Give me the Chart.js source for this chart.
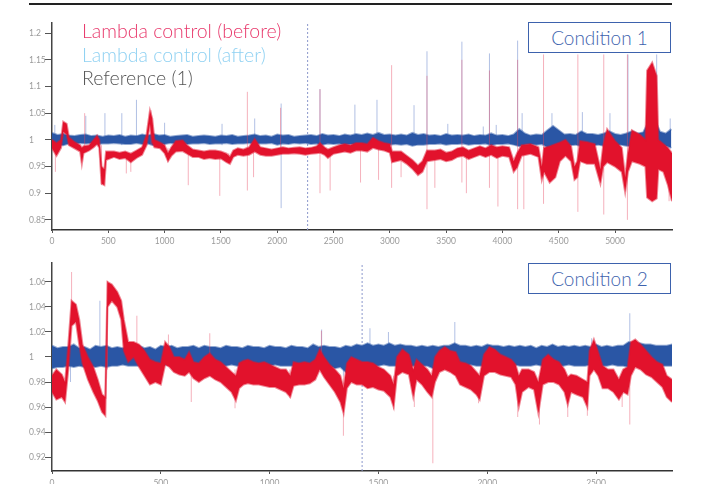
<!DOCTYPE html>
<html>
<head>
<meta charset="utf-8">
<script src="https://cdn.jsdelivr.net/npm/chart.js@4.4.1/dist/chart.umd.min.js"></script>
<style>
  body { margin: 0; background: #fff; width: 705px; height: 484px; overflow: hidden; position: relative; font-family: Lato, "Open Sans", sans-serif; }
  #rule { position: absolute; left: 29px; top: 3px; width: 643px; height: 2px; background: #222; }
  canvas { position: absolute; left: 0; }
  #c1 { top: 0; }
  #c2 { top: 252px; }
  .legend { position: absolute; left: 82px; font-size: 19.5px; font-weight: 300; line-height: 23.5px; white-space: nowrap; }
  .cond { position: absolute; left: 528px; width: 141px; height: 29px; border: 1.5px solid #3d62ad; background: #fff;
          color: #3d62ad; font-size: 19px; font-weight: 300; text-align: center; line-height: 29px; }
</style>
</head>
<body>
<div id="rule"></div>
<canvas id="c1" width="705" height="252"></canvas>
<canvas id="c2" width="705" height="232"></canvas>
<div class="legend" style="top:19px;color:#e8386b">Lambda control (before)</div>
<div class="legend" style="top:42.5px;color:#8fd1f2">Lambda control (after)</div>
<div class="legend" style="top:66px;color:#555">Reference (1)</div>
<div class="cond" style="top:22px">Condition 1</div>
<div class="cond" style="top:263px">Condition 2</div>
<script>
// ---- Condition 1 (top panel) ----
// red band: sample positions with upper / lower edge of the noisy trace
const topRedX = [0,40,80,100,130,150,200,250,265,280,330,370,400,420,440,465,480,550,600,650,
  700,750,800,840,870,890,910,960,1000,1030,1060,1100,1160,1200,1250,1300,1350,1400,1450,1500,
  1550,1580,1610,1650,1700,1750,1800,1850,1900,1950,2000,2050,2100,2150,2200,2250,2300,2350,2380,2420,
  2450,2500,2550,2600,2650,2700,2750,2800,2850,2900,2950,3000,3020,3100,3150,3200,3250,3290,3330,3400,
  3450,3500,3550,3600,3650,3700,3750,3800,3850,3900,3950,4000,4060,4100,4130,4170,4250,4320,4350,4370,
  4420,4470,4510,4560,4610,4640,4665,4690,4750,4820,4870,4895,4930,5000,5060,5090,5115,5150,5220,5270,
  5285,5330,5370,5385,5430,5470,5506];
const topRedHi = [1.000,0.994,1.000,1.034,1.030,1.005,0.996,0.990,0.985,0.988,0.990,1.000,1.008,1.000,0.950,0.945,0.978,0.978,0.976,0.978,
  0.974,0.980,0.986,1.010,1.055,1.040,1.000,0.995,0.990,0.975,0.986,0.998,0.999,0.990,0.982,0.980,0.978,0.980,0.980,0.978,
  0.974,0.968,0.980,0.984,0.982,0.986,1.002,0.986,0.984,0.982,0.984,0.986,0.984,0.985,0.986,0.984,0.985,0.988,0.994,0.986,
  0.982,0.986,0.990,0.992,0.990,0.994,0.994,0.992,1.004,0.998,0.994,0.992,0.978,0.978,0.970,0.962,0.952,0.960,0.980,0.980,
  0.982,0.976,0.978,0.984,0.986,0.980,0.984,0.988,0.984,0.990,0.986,0.988,0.986,0.960,0.975,0.990,0.992,0.986,0.950,0.985,
  0.988,0.992,0.995,1.000,0.988,0.950,0.960,0.998,0.996,0.992,0.945,0.990,1.020,0.998,0.985,0.930,0.975,1.018,1.010,1.000,
  1.130,1.145,1.120,1.000,0.992,0.985,0.975];
const topRedLo = [0.984,0.970,0.985,1.015,1.010,0.990,0.984,0.978,0.955,0.975,0.980,0.986,0.992,0.985,0.918,0.915,0.962,0.968,0.964,0.966,
  0.958,0.966,0.972,0.990,1.030,0.995,0.986,0.984,0.975,0.960,0.970,0.978,0.979,0.974,0.968,0.968,0.964,0.966,0.964,0.965,
  0.958,0.955,0.968,0.972,0.970,0.972,0.978,0.972,0.970,0.970,0.972,0.974,0.974,0.975,0.974,0.972,0.974,0.975,0.976,0.972,
  0.966,0.974,0.976,0.978,0.976,0.980,0.980,0.978,0.985,0.982,0.980,0.976,0.958,0.962,0.955,0.946,0.934,0.940,0.960,0.962,
  0.964,0.960,0.962,0.968,0.970,0.964,0.968,0.972,0.968,0.972,0.966,0.970,0.968,0.940,0.948,0.970,0.974,0.968,0.925,0.940,
  0.920,0.930,0.960,0.970,0.960,0.925,0.930,0.960,0.955,0.955,0.918,0.950,0.958,0.950,0.940,0.902,0.940,0.960,0.955,0.950,
  0.892,0.885,0.890,0.945,0.940,0.915,0.885];
// blue band, one sample every 50
const topBlueStep = 50;
const topBlueHi = [1.013,1.009,1.011,1.008,1.007,1.009,1.010,1.007,1.008,1.006,
  1.008,1.007,1.009,1.006,1.008,1.007,1.010,1.008,1.011,1.008,
  1.009,1.006,1.007,1.008,1.009,1.006,1.007,1.008,1.007,1.006,
  1.008,1.007,1.009,1.006,1.007,1.008,1.010,1.007,1.008,1.006,
  1.010,1.008,1.009,1.006,1.007,1.008,1.009,1.007,1.011,1.008,
  1.009,1.007,1.010,1.008,1.011,1.009,1.012,1.009,1.013,1.009,
  1.010,1.008,1.010,1.008,1.013,1.009,1.011,1.008,1.009,1.007,
  1.011,1.008,1.009,1.008,1.010,1.007,1.009,1.008,1.012,1.008,
  1.009,1.007,1.010,1.020,1.012,1.008,1.010,1.009,1.018,1.026,
  1.018,1.010,1.011,1.009,1.016,1.011,1.011,1.009,1.012,1.016,
  1.011,1.009,1.012,1.016,1.012,1.014,1.035,1.040,1.015,1.012,1.020];
const topBlueLo = [0.989,0.991,0.990,0.993,0.992,0.994,0.993,0.994,0.992,0.993,
  0.993,0.994,0.993,0.992,0.992,0.994,0.992,0.993,0.990,0.992,
  0.992,0.994,0.993,0.994,0.992,0.993,0.993,0.994,0.992,0.993,
  0.993,0.994,0.992,0.993,0.993,0.994,0.992,0.993,0.993,0.994,
  0.991,0.993,0.992,0.994,0.993,0.994,0.992,0.993,0.991,0.993,
  0.992,0.993,0.991,0.992,0.991,0.992,0.990,0.992,0.990,0.992,
  0.991,0.992,0.991,0.992,0.989,0.991,0.991,0.992,0.992,0.993,
  0.991,0.992,0.992,0.993,0.991,0.992,0.992,0.993,0.990,0.992,
  0.992,0.993,0.991,0.988,0.991,0.992,0.991,0.992,0.986,0.984,
  0.987,0.991,0.990,0.991,0.988,0.990,0.990,0.991,0.989,0.988,
  0.990,0.991,0.989,0.988,0.990,0.989,0.984,0.985,0.988,0.989,0.985];
const topRedSpikeX   = [30,290,440,660,700,880,1030,1210,1490,1570,1735,1790,2030,2380,2470,2740,2900,3016,3100,3330,3400,3640,3680,3885,3960,4135,4190,4365,4670,4900,5110,5480];
const topRedSpikeTop = [0.99,1.05,0.99,0.975,0.975,1.056,0.985,0.98,0.975,0.975,1.09,0.98,1.06,1.095,0.98,0.985,0.985,1.14,0.97,1.12,0.97,1.15,0.97,1.13,0.97,1.15,0.975,1.16,1.16,1.16,1.16,0.97];
const topRedSpikeBot = [0.94,0.985,0.915,0.937,0.94,0.99,0.958,0.915,0.895,0.955,0.905,0.93,0.975,0.9,0.905,0.92,0.925,0.91,0.93,0.87,0.91,0.92,0.9,0.91,0.875,0.87,0.87,0.88,0.865,0.86,0.85,0.885];
const topBlueSpikeX   = [25,100,300,470,620,750,1000,1510,1800,2035,2380,2690,2886,3215,3330,3515,3640,3830,3885,3945,4135,4175,4440,4710,4955,5115,5370,5490];
const topBlueSpikeTop = [1.028,1.03,1.045,1.05,1.05,1.075,1.032,1.03,1.04,1.068,1.095,1.066,1.075,1.065,1.166,1.03,1.184,1.025,1.162,1.028,1.186,1.05,1.05,1.052,1.05,1.16,1.16,1.04];
const topBlueSpikeBot = [0.985,0.99,0.995,0.995,0.99,0.995,0.99,0.99,0.995,0.872,0.995,0.995,0.995,0.995,1.0,0.995,1.0,0.995,1.0,0.995,1.0,0.99,0.99,0.99,0.99,1.0,1.0,0.99];
const topYTicks = [0.85,0.9,0.95,1,1.05,1.1,1.15,1.2];
const topXTicks = [0,500,1000,1500,2000,2500,3000,3500,4000,4500,5000];
const topMarkerX = 2270;

// ---- Condition 2 (bottom panel) ----
const botRedX = [0,20,45,60,75,90,110,125,140,165,190,210,230,245,255,275,300,318,330,350,
  375,400,425,450,475,500,520,540,560,585,610,630,650,675,700,725,750,775,800,825,
  845,860,880,900,925,950,975,1000,1025,1050,1075,1095,1110,1135,1160,1185,1210,1230,1250,1275,
  1300,1325,1340,1355,1375,1400,1425,1450,1475,1500,1525,1555,1570,1585,1610,1640,1660,1675,1700,1725,
  1745,1760,1780,1805,1830,1855,1875,1900,1925,1950,1965,1985,2010,2035,2060,2085,2110,2130,2145,2160,
  2190,2215,2235,2255,2280,2305,2330,2355,2370,2385,2410,2440,2460,2470,2490,2510,2530,2555,2580,2605,
  2625,2645,2660,2680,2705,2730,2755,2780,2805,2825,2849];
const botRedHi = [0.985,0.990,0.986,0.980,1.010,1.045,1.042,1.030,1.010,1.000,0.992,0.982,0.970,0.968,1.060,1.058,1.052,1.045,1.030,1.012,
  1.012,1.010,1.005,0.998,0.996,0.995,1.012,1.008,1.000,1.000,0.998,1.004,0.996,0.995,1.000,1.003,0.998,0.996,0.992,0.988,
  0.985,0.995,0.997,0.998,0.996,0.995,0.996,0.994,0.992,0.990,0.990,0.985,0.996,0.995,0.996,0.995,0.998,1.006,1.000,0.994,
  0.990,0.985,0.975,0.995,1.000,0.998,0.996,0.996,0.995,0.992,0.990,0.985,0.978,1.000,1.006,1.002,0.990,0.998,0.994,0.990,
  0.985,1.000,1.005,1.008,1.005,1.004,0.996,0.995,0.993,0.988,0.985,1.002,1.008,1.006,1.002,1.000,0.998,0.994,0.985,0.990,
  0.990,0.988,0.980,0.998,1.002,0.998,0.996,0.990,0.984,0.986,0.985,0.982,0.980,1.005,1.014,1.004,0.993,0.990,0.990,0.982,
  0.990,0.992,1.012,1.014,1.010,1.005,1.000,0.996,0.994,0.985,0.982];
const botRedLo = [0.972,0.966,0.968,0.964,0.990,1.025,1.028,1.010,0.995,0.982,0.972,0.965,0.956,0.953,1.040,1.045,1.040,1.030,1.005,0.996,
  1.000,0.992,0.985,0.978,0.980,0.978,0.994,0.992,0.988,0.986,0.985,0.988,0.983,0.980,0.983,0.985,0.982,0.980,0.976,0.972,
  0.965,0.975,0.978,0.979,0.978,0.978,0.977,0.976,0.976,0.974,0.972,0.968,0.977,0.978,0.978,0.979,0.982,0.990,0.984,0.978,
  0.972,0.964,0.955,0.975,0.980,0.978,0.978,0.975,0.976,0.974,0.973,0.968,0.960,0.985,0.988,0.986,0.968,0.982,0.978,0.972,
  0.968,0.980,0.988,0.990,0.988,0.985,0.978,0.976,0.974,0.970,0.966,0.985,0.988,0.988,0.986,0.985,0.984,0.978,0.960,0.972,
  0.976,0.974,0.955,0.978,0.980,0.980,0.978,0.972,0.962,0.972,0.970,0.968,0.960,0.985,0.990,0.985,0.975,0.975,0.972,0.966,
  0.972,0.970,0.985,0.992,0.990,0.986,0.984,0.980,0.976,0.968,0.964];
const botBlueStep = 25;
const botBlueHi = [1.009,1.007,1.008,1.008,1.010,1.007,1.008,1.006,1.009,1.008,
  1.009,1.007,1.008,1.007,1.009,1.008,1.009,1.007,1.008,1.006,
  1.009,1.008,1.009,1.007,1.008,1.008,1.009,1.007,1.009,1.008,
  1.008,1.007,1.009,1.008,1.008,1.007,1.009,1.008,1.008,1.007,
  1.009,1.008,1.008,1.007,1.009,1.008,1.008,1.007,1.010,1.008,
  1.009,1.008,1.008,1.007,1.009,1.008,1.010,1.009,1.011,1.009,
  1.010,1.009,1.011,1.009,1.010,1.009,1.009,1.008,1.009,1.008,
  1.009,1.008,1.009,1.009,1.011,1.009,1.009,1.008,1.009,1.008,
  1.010,1.009,1.009,1.008,1.009,1.008,1.009,1.008,1.009,1.007,
  1.009,1.008,1.010,1.008,1.009,1.008,1.009,1.008,1.009,1.008,
  1.010,1.008,1.009,1.008,1.009,1.009,1.012,1.011,1.011,1.010,
  1.010,1.009,1.009,1.009,1.010];
const botBlueLo = [0.991,0.992,0.992,0.993,0.992,0.993,0.992,0.993,0.992,0.993,
  0.992,0.993,0.993,0.994,0.993,0.993,0.993,0.994,0.993,0.993,
  0.993,0.994,0.993,0.993,0.993,0.994,0.993,0.993,0.993,0.994,
  0.993,0.993,0.993,0.994,0.993,0.993,0.993,0.994,0.993,0.993,
  0.993,0.994,0.993,0.993,0.993,0.993,0.992,0.993,0.992,0.993,
  0.992,0.993,0.991,0.992,0.988,0.991,0.992,0.993,0.992,0.993,
  0.993,0.994,0.993,0.993,0.993,0.994,0.993,0.993,0.993,0.993,
  0.991,0.992,0.992,0.993,0.992,0.993,0.993,0.994,0.993,0.993,
  0.993,0.994,0.993,0.993,0.993,0.994,0.993,0.993,0.993,0.994,
  0.993,0.994,0.993,0.993,0.993,0.994,0.993,0.993,0.993,0.994,
  0.993,0.993,0.993,0.994,0.993,0.993,0.992,0.993,0.993,0.994,
  0.993,0.994,0.993,0.993,0.993];
const botRedSpikeX   = [90,255,390,535,640,725,841,1093,1238,1339,1570,1665,1750,1960,2140,2240,2370,2460,2620,2655];
const botRedSpikeTop = [1.068,1.061,1.033,1.018,0.995,1.019,0.99,0.99,1.021,0.985,0.985,0.985,0.985,0.985,0.985,0.985,0.98,0.98,0.98,0.99];
const botRedSpikeBot = [1.03,0.99,1.0,0.995,0.964,0.995,0.959,0.967,0.995,0.937,0.958,0.96,0.915,0.963,0.952,0.946,0.952,0.953,0.96,0.946];
const botBlueSpikeX   = [85,220,1239,1339,1461,1546,1851,2480,2655];
const botBlueSpikeTop = [1.0,1.045,1.022,1.0,1.023,1.02,1.028,1.015,1.035];
const botBlueSpikeBot = [0.98,0.995,0.995,0.985,0.995,0.995,0.995,0.995,0.99];
const botYTicks = [0.92,0.94,0.96,0.98,1,1.02,1.04,1.06];
const botXTicks = [0,500,1000,1500,2000,2500];
const botMarkerX = 1425;

const RED = '#e2122c', BLUE = '#2a56a5';
const RED_EDGE = 'rgba(226,18,44,0.5)', BLUE_EDGE = 'rgba(42,86,165,0.5)';
const RED_FAINT = 'rgba(232,70,95,0.42)', BLUE_FAINT = 'rgba(70,105,190,0.42)';

const pairs = (xs, ys) => ys.map((v, i) => ({ x: xs[i], y: v }));
const stepped = (step, ys) => ys.map((v, i) => ({ x: i * step, y: v }));
const spikes = (xs, tops, bots) => xs.flatMap((x, i) => [{ x, y: bots[i] }, { x, y: tops[i] }, { x, y: null }]);

function lineSet(data, color, extra) {
  return Object.assign({ data, borderColor: color, backgroundColor: color, borderWidth: 1,
    pointRadius: 0, tension: 0, spanGaps: false, fill: false }, extra || {});
}

function makePanel(id, p) {
  const tickFont = { family: 'Lato, sans-serif', size: 8.5 };
  new Chart(document.getElementById(id), {
    type: 'line',
    data: {
      datasets: [
        lineSet(pairs(p.redX, p.redHi), RED_EDGE, { fill: { target: '+1' }, backgroundColor: RED, borderWidth: 2 }),
        lineSet(pairs(p.redX, p.redLo), RED_EDGE, { borderWidth: 2 }),
        lineSet(spikes(p.redSpX, p.redSpTop, p.redSpBot), RED_FAINT),
        lineSet(stepped(p.blueStep, p.blueHi), BLUE_EDGE, { fill: { target: '+1' }, backgroundColor: BLUE, borderWidth: 2 }),
        lineSet(stepped(p.blueStep, p.blueLo), BLUE_EDGE, { borderWidth: 2 }),
        lineSet(spikes(p.blueSpX, p.blueSpTop, p.blueSpBot), BLUE_FAINT),
        lineSet([{ x: p.marker, y: p.yMin }, { x: p.marker, y: p.yMax }], '#8c98cc', { borderDash: [2, 2] })
      ]
    },
    options: {
      responsive: false, animation: false, events: [],
      layout: { padding: { left: 29, right: 33, top: p.padTop, bottom: 0 } },
      plugins: { legend: { display: false }, tooltip: { enabled: false } },
      scales: {
        x: {
          type: 'linear', min: 0, max: p.xMax,
          afterFit: s => { s.height = p.xAxisH; },
          afterBuildTicks: s => { s.ticks = p.xTicks.map(v => ({ value: v })); },
          grid: { display: true, drawOnChartArea: false, drawTicks: true, tickLength: 3, color: '#555' },
          border: { display: true, color: '#333', width: 1.5 },
          ticks: { autoSkip: false, maxRotation: 0, padding: p.xPad, color: '#9a9a9a', font: tickFont,
                   callback: v => String(v) }
        },
        y: {
          min: p.yMin, max: p.yMax,
          afterFit: s => { s.width = 23; },
          afterBuildTicks: s => { s.ticks = p.yTicks.map(v => ({ value: v })); },
          grid: { display: true, drawOnChartArea: false, drawTicks: true, tickLength: 7, color: '#555' },
          border: { display: true, color: '#444', width: 1.5 },
          ticks: { crossAlign: 'far', padding: 0, color: '#9a9a9a', font: tickFont,
                   callback: v => String(+Number(v).toFixed(2)) }
        }
      }
    }
  });
}

makePanel('c1', {
  redX: topRedX, redHi: topRedHi, redLo: topRedLo,
  blueStep: topBlueStep, blueHi: topBlueHi, blueLo: topBlueLo,
  redSpX: topRedSpikeX, redSpTop: topRedSpikeTop, redSpBot: topRedSpikeBot,
  blueSpX: topBlueSpikeX, blueSpTop: topBlueSpikeTop, blueSpBot: topBlueSpikeBot,
  yTicks: topYTicks, xTicks: topXTicks, marker: topMarkerX,
  yMin: 0.831, yMax: 1.219, xMax: 5506, padTop: 23, xAxisH: 22, xPad: 3
});

makePanel('c2', {
  redX: botRedX, redHi: botRedHi, redLo: botRedLo,
  blueStep: botBlueStep, blueHi: botBlueHi, blueLo: botBlueLo,
  redSpX: botRedSpikeX, redSpTop: botRedSpikeTop, redSpBot: botRedSpikeBot,
  blueSpX: botBlueSpikeX, blueSpTop: botBlueSpikeTop, blueSpBot: botBlueSpikeBot,
  yTicks: botYTicks, xTicks: botXTicks, marker: botMarkerX,
  yMin: 0.9088, yMax: 1.0752, xMax: 2849, padTop: 11, xAxisH: 13, xPad: 4
});
</script>
</body>
</html>
